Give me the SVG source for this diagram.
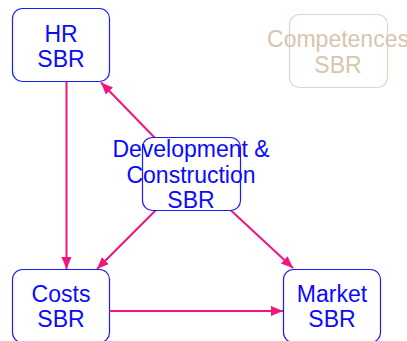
<svg xmlns="http://www.w3.org/2000/svg" width="407" height="341" viewBox="0 0 407 341">
<style>
.box{fill:#fff;stroke:#1a1aff;stroke-width:1.2}
.t{font-family:"Liberation Sans",Arial,sans-serif;font-size:23px;fill:#0a0aff;text-anchor:middle}
.comp .box{stroke:#e0d4c2}
.comp .t{fill:#d6c6ae}
.c{stroke:#f5137c;stroke-width:2;fill:none;marker-end:url(#ah)}
</style>
<defs>
<marker id="ah" markerUnits="userSpaceOnUse" markerWidth="13" markerHeight="13" viewBox="0 0 13 13" refX="12" refY="6.5" orient="auto">
<path d="M0,1.5 L12,6.5 L0,11.5 Z" fill="#f5137c"/>
</marker>
</defs>
<rect width="407" height="341" fill="#fff"/>
<g id="hr"><rect class="box" x="12.5" y="8.5" width="97" height="73" rx="10"/><text class="t" x="61" y="42">HR</text><text class="t" x="61" y="67">SBR</text></g>
<g id="competences" class="comp"><rect class="box" x="289.5" y="14.5" width="98" height="73" rx="10"/><text class="t" x="338" y="47">Competences</text><text class="t" x="338" y="73">SBR</text></g>
<g id="costs"><rect class="box" x="12.5" y="269.5" width="97" height="73" rx="10"/><text class="t" x="61" y="302">Costs</text><text class="t" x="61" y="327">SBR</text></g>
<g id="market"><rect class="box" x="283.5" y="269.5" width="97" height="73" rx="10"/><text class="t" x="332" y="302">Market</text><text class="t" x="332" y="327">SBR</text></g>
<g id="connectors">
<line class="c" x1="66.5" y1="81.5" x2="66.5" y2="269"/>
<line class="c" x1="155" y1="138" x2="101" y2="82.5"/>
<line class="c" x1="156" y1="210" x2="97" y2="269"/>
<line class="c" x1="230.5" y1="210" x2="293" y2="268"/>
<line class="c" x1="109.5" y1="311" x2="283" y2="311"/>
</g>
<g id="development"><rect class="box" x="142.5" y="137.5" width="98" height="73" rx="10"/><text class="t" x="191" y="157">Development &amp;</text><text class="t" x="191" y="183">Construction</text><text class="t" x="191" y="208">SBR</text></g>
</svg>
